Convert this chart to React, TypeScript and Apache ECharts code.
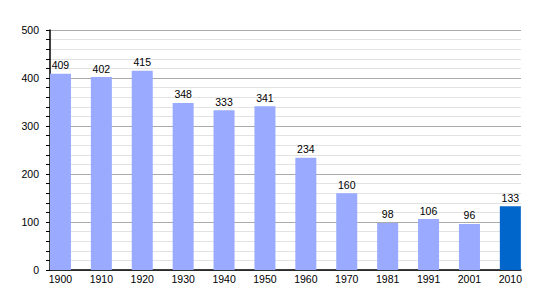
import React, { useEffect, useRef } from "react";
import * as echarts from "echarts";

const categories = ["1900", "1910", "1920", "1930", "1940", "1950", "1960", "1970", "1981", "1991", "2001", "2010"];
const values = [409, 402, 415, 348, 333, 341, 234, 160, 98, 106, 96, 133];
const barColors = ["#99aaff", "#99aaff", "#99aaff", "#99aaff", "#99aaff", "#99aaff", "#99aaff", "#99aaff", "#99aaff", "#99aaff", "#99aaff", "#0066cc"];
const yTicks = [0, 100, 200, 300, 400, 500];

export default function App() {
  const ref = useRef<HTMLDivElement>(null);
  useEffect(() => {
    if (!ref.current) return;
    const chart = echarts.init(ref.current, null, { renderer: "svg" });
    const font = "'Liberation Sans', Arial, sans-serif";
    chart.setOption({
      animation: false,
      backgroundColor: "#ffffff",
      grid: [
        { left: 50, top: 30, width: 471, height: 240 },
        { left: 40, top: 30, width: 490.8, height: 240 },
      ],
      xAxis: [
        {
          gridIndex: 0,
          type: "value",
          min: 0,
          max: 1,
          axisLine: { show: true, lineStyle: { color: "#000", width: 1.5 } },
          axisTick: { show: false },
          axisLabel: { show: false },
          splitLine: { show: false },
        },
        {
          gridIndex: 1,
          type: "category",
          data: categories,
          axisLine: { show: false },
          axisTick: { show: false },
          axisLabel: { color: "#000", fontSize: 10.5, fontFamily: font, margin: 3, interval: 0 },
        },
      ],
      yAxis: [
        {
          gridIndex: 0,
          type: "value",
          min: yTicks[0],
          max: yTicks[yTicks.length - 1],
          interval: 100,
          axisLine: { show: true, lineStyle: { color: "#000", width: 1.5 } },
          axisTick: { show: true, length: 4, lineStyle: { color: "#000" } },
          minorTick: { show: true, splitNumber: 5, length: 4, lineStyle: { color: "#000" } },
          axisLabel: { color: "#000", fontSize: 10.5, fontFamily: font, margin: 11 },
          splitLine: { show: true, lineStyle: { color: "#aaaaaa", width: 1 } },
          minorSplitLine: { show: true, lineStyle: { color: "#e2e2e2", width: 1 } },
        },
        {
          gridIndex: 1,
          type: "value",
          min: 0,
          max: 500,
          show: false,
          splitLine: { show: false },
        },
      ],
      series: [
        {
          type: "bar",
          xAxisIndex: 1,
          yAxisIndex: 1,
          barWidth: 21,
          data: values.map((v, i) => ({ value: v, itemStyle: { color: barColors[i] } })),
          label: {
            show: true,
            position: "top",
            distance: 3,
            color: "#000",
            fontSize: 10.5,
            fontFamily: font,
          },
        },
      ],
    });
    return () => chart.dispose();
  }, []);
  return <div ref={ref} style={{ width: 550, height: 300, position: "absolute", left: 0, top: 0 }} />;
}
